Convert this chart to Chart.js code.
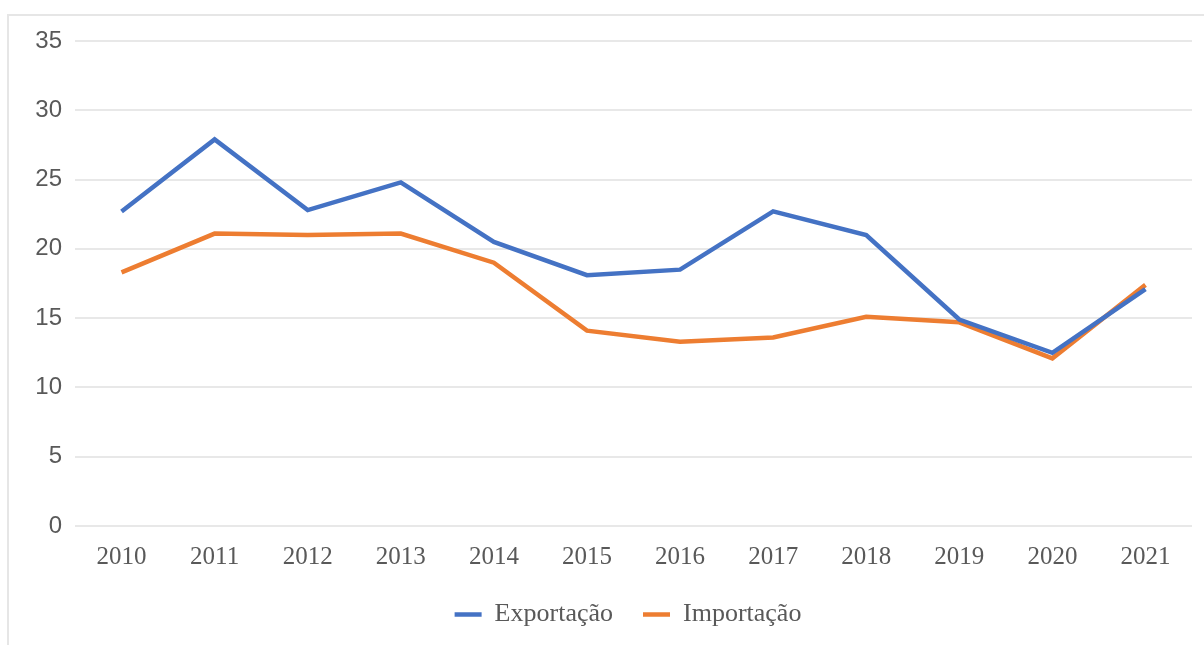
<!DOCTYPE html>
<html>
<head>
<meta charset="utf-8">
<script src="https://cdn.jsdelivr.net/npm/chart.js@4"></script>
<style>
  html, body { margin: 0; padding: 0; background: #fff; overflow: hidden; }
  #frame {
    position: absolute; left: 7px; top: 14px; width: 1300px; height: 700px;
    border: 2px solid #e6e6e6; box-sizing: border-box;
  }
  #wrap { position: absolute; left: 0; top: 0; width: 1204px; height: 645px; }
</style>
</head>
<body>
<div id="frame"></div>
<div id="wrap"><canvas id="chart" width="1204" height="645"></canvas></div>
<script>
/* ---------- DATA ---------- */
const anos = ['2010', '2011', '2012', '2013', '2014', '2015', '2016', '2017', '2018', '2019', '2020', '2021'];
const exportacao = [22.7, 27.9, 22.8, 24.8, 20.5, 18.1, 18.5, 22.7, 21.0, 14.9, 12.5, 17.1];
const importacao = [18.3, 21.1, 21.0, 21.1, 19.0, 14.1, 13.3, 13.6, 15.1, 14.7, 12.1, 17.4];

const AZUL    = '#4472c4';
const LARANJA = '#ed7d31';
const SERIF   = '"Liberation Serif", "DejaVu Serif", serif';
const SANS    = '"Liberation Sans", Arial, sans-serif';

// empurra a legenda um pouco para a direita (centrada na área do gráfico)
const shiftLegend = {
  id: 'shiftLegend',
  afterLayout(chart) {
    const lg = chart.legend;
    if (!lg) return;
    lg.left += 32;
    lg.right += 32;
  }
};

new Chart(document.getElementById('chart'), {
  type: 'line',
  data: {
    labels: anos,
    datasets: [
      { label: 'Exportação', data: exportacao, borderColor: AZUL, backgroundColor: AZUL,
        borderWidth: 4.5, pointRadius: 0, tension: 0 },
      { label: 'Importação', data: importacao, borderColor: LARANJA, backgroundColor: LARANJA,
        borderWidth: 4.5, pointRadius: 0, tension: 0 }
    ]
  },
  options: {
    responsive: false,
    animation: false,
    layout: { padding: { top: 41, right: 12, left: 0, bottom: 7.5 } },
    plugins: {
      legend: {
        position: 'bottom',
        labels: {
          usePointStyle: true,
          pointStyle: 'line',
          pointStyleWidth: 27,
          padding: 30,
          color: '#595959',
          font: { family: SERIF, size: 26 }
        }
      },
      tooltip: { enabled: false }
    },
    scales: {
      x: {
        offset: true,
        grid: { display: false, drawTicks: false },
        border: { display: false },
        ticks: { color: '#595959', padding: 16, font: { family: SERIF, size: 25 } },
        afterFit: s => { s.height = 45.5; }
      },
      y: {
        min: 0, max: 35,
        grid: { color: '#e8e8e8', lineWidth: 2, drawTicks: false },
        border: { display: false },
        ticks: { stepSize: 5, color: '#595959', padding: 13, font: { family: SANS, size: 24 } },
        afterFit: s => { s.width = 75; }
      }
    }
  },
  plugins: [shiftLegend]
});
</script>
</body>
</html>
